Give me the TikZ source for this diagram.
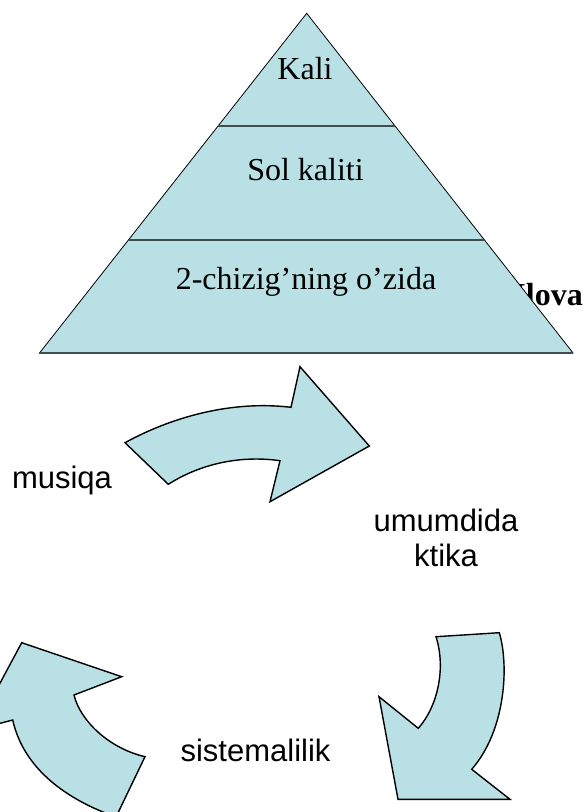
\documentclass[tikz,border=0pt]{standalone}
\usepackage{fontspec}
\setmainfont{Liberation Serif}
\newfontfamily\arialfont{Liberation Sans}
\definecolor{pyrfill}{RGB}{185,224,228}
\definecolor{divline}{RGB}{62,78,80}
\tikzset{
  pyrtext/.style={font=\fontsize{32}{38}\selectfont, inner sep=0pt, anchor=base},
  sanstext/.style={font=\arialfont\fontsize{31}{35}\selectfont, inner sep=0pt, anchor=base},
  blockarrow/.style={fill=pyrfill, draw=black, line width=1.4pt, line join=miter},
  divider/.style={draw=divline, line width=2pt}
}
\begin{document}
\begin{tikzpicture}[x=1pt,y=-1pt]
\path[use as bounding box, fill=white] (0,0) rectangle (585,812);
\begin{scope}
\clip (0,0) rectangle (585,812);
% text partly hidden behind the pyramid
\node[pyrtext, anchor=base east, font=\bfseries\fontsize{32}{38}\selectfont] (ilova) at (583,305) {Ilova};
% pyramid
\coordinate (apex) at (306.7,13.3);
\coordinate (bl) at (39.3,353.3);
\coordinate (br) at (573.3,353.3);
\fill[pyrfill] (apex) -- (br) -- (bl) -- cycle;
\draw[black, line width=0.8pt] (bl) -- (apex) -- (br);
\draw[divider] (bl) -- (br);
\coordinate (d1l) at (218.2,126);
\coordinate (d1r) at (395.2,126);
\coordinate (d2l) at (129.2,240);
\coordinate (d2r) at (484.2,240);
\draw[divider] (d1l) -- (d1r);
\draw[divider] (d2l) -- (d2r);
\node[pyrtext] (kali) at (305,79.3) {Kali};
\node[pyrtext] (sol) at (305.5,180) {Sol kaliti};
\node[pyrtext] (chiziq) at (306,289.3) {2-chizig’ning o’zida};
% top curved arrow
\draw[blockarrow] (125,442.7) .. controls (170,418) and (230,400) .. (291,407.3)
  -- (300,366.7) -- (369.3,446) -- (270,501.7) -- (280,460.7)
  .. controls (240,455) and (200,464) .. (168.3,484.3) -- cycle;
% right curved arrow
\draw[blockarrow] (436,636.7) -- (499.3,632.7)
  .. controls (509,665) and (506,730) .. (471.7,769.3)
  -- (510,799.3) -- (398,799.3) -- (379,696.7) -- (418.3,728.3)
  .. controls (438,706) and (446,668) .. (436,636.7) -- cycle;
% bottom-left curved arrow
\draw[blockarrow] (21.7,642.7) -- (121.7,676.7) -- (74,695)
  .. controls (80,720) and (108,748) .. (145,756.7)
  -- (116,817)
  .. controls (68,800) and (24,770) .. (12.7,720)
  -- (-25,729.8) -- cycle;
% labels
\node[sanstext] (musiqa) at (62,488) {musiqa};
\node[font=\arialfont\fontsize{31}{35}\selectfont, inner sep=0pt, align=center] (umum) at (446,538) {umumdida\\ktika};
\node[sanstext] (sistema) at (255.5,761.7) {sistemalilik};
\end{scope}
\end{tikzpicture}
\end{document}
